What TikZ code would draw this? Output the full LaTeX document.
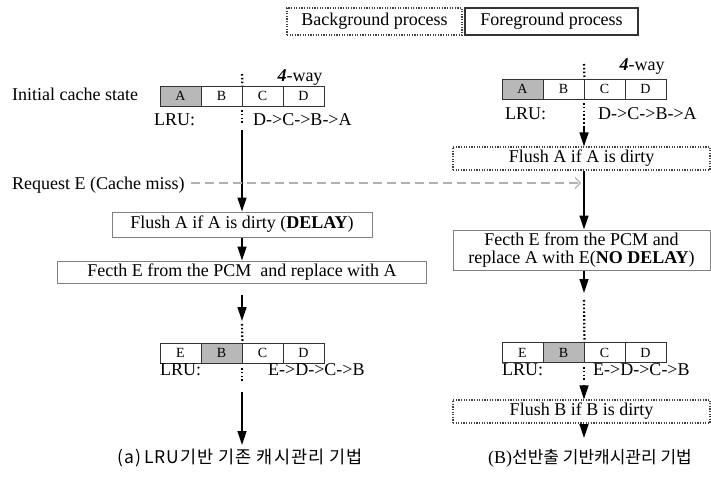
\documentclass[tikz,border=0pt]{standalone}
\usepackage{fontspec}
\setmainfont{Liberation Serif}
\newfontfamily\krfont{Noto Sans CJK KR}
\usetikzlibrary{arrows.meta}

\begin{document}
\begin{tikzpicture}[x=1pt,y=-1pt,
  lbl/.style={inner sep=0pt, font=\fontsize{18}{18}\selectfont},
  cell/.style={draw=black!80, line width=0.9pt, minimum width=41pt, minimum height=20pt, inner sep=0pt, font=\fontsize{14}{14}\selectfont},
  lrucell/.style={cell, fill=black!28},
  fgbox/.style={draw=black!50, line width=1pt, inner sep=0pt, font=\fontsize{18}{18}\selectfont, align=center},
  bgbox/.style={draw=black!75, line width=1.1pt, dash pattern=on 1.2pt off 1.4pt, inner sep=0pt, font=\fontsize{18}{18}\selectfont, align=center},
  flow/.style={draw=black, line width=1.3pt, -{Triangle[length=14pt,width=9pt]}},
  dotmark/.style={draw=black, line width=2.2pt, dash pattern=on 1.6pt off 2.2pt},
  reqline/.style={draw=black!30, line width=1.2pt, dash pattern=on 9pt off 5pt, -{Straight Barb[length=5pt,width=11pt]}},
  caption/.style={inner sep=0pt, font=\krfont\fontsize{17}{17}\selectfont},
]
\useasboundingbox (0,0) rectangle (711,476);

% legend
\node[bgbox, minimum width=175pt, minimum height=27pt] (bg) at (374.5,21.5) {Background process};
\node[fgbox, draw=black!80, line width=1.3pt, minimum width=173pt, minimum height=27pt] (fg) at (551.5,21.5) {Foreground process};

% ---------- left: plain LRU ----------
\node[lbl, anchor=base west] (init) at (12,101) {Initial cache state};
\node[lrucell] (la1) at (180.5,96) {A};
\node[cell] (la2) at (221.5,96) {B};
\node[cell] (la3) at (262.5,96) {C};
\node[cell] (la4) at (303.5,96) {D};
\node[lbl, anchor=base] (lway) at (300,82) {\textbf{\textit{4}}-way};
\node[lbl, anchor=base west] (llru) at (154,125) {LRU:};
\node[lbl, anchor=base west] (lord) at (253,125) {D->C->B->A};
\coordinate (lt1) at (242,74);
\draw[dotmark] (lt1) -- (la2.north east);
\coordinate (lb1) at (242,110);
\coordinate (lb2) at (242,125);
\draw[dotmark] (lb1) -- (lb2);

\node[fgbox, minimum width=260pt, minimum height=25pt] (lflush) at (242,224.5) {Flush A if A is dirty (\textbf{DELAY})};
\node[fgbox, minimum width=369pt, minimum height=22pt] (lfetch) at (242,272) {Fecth E from the PCM\ \ and replace with A};
\coordinate (ls) at (242,130);
\draw[flow] (ls) -- (lflush);
\draw[flow] (lflush) -- (lfetch);
\coordinate (lf1) at (242,295);
\coordinate (lf2) at (242,321);
\draw[flow] (lf1) -- (lf2);

\node[cell] (le1) at (180.5,353) {E};
\node[lrucell] (le2) at (221.5,353) {B};
\node[cell] (le3) at (262.5,353) {C};
\node[cell] (le4) at (303.5,353) {D};
\coordinate (lf3) at (242,324);
\draw[dotmark] (lf3) -- (le2.north east);
\node[lbl, anchor=base west] (llru2) at (160,375) {LRU:};
\node[lbl, anchor=base west] (lord2) at (268,375) {E->D->C->B};
\coordinate (lg1) at (242,368);
\coordinate (lg2) at (242,381);
\draw[dotmark] (lg1) -- (lg2);
\coordinate (lh1) at (242,392);
\coordinate (lh2) at (242,445);
\draw[flow] (lh1) -- (lh2);
\node[caption, anchor=base, font=\krfont\fontsize{17.5}{17.5}\selectfont\addfontfeature{LetterSpace=6}] (lcap) at (240,463) {(a)\,LRU기반 기존 캐시관리 기법};

% ---------- right: early eviction ----------
\coordinate (rc) at (584,0);
\node[lrucell] (ra1) at (522.5,89) {A};
\node[cell] (ra2) at (563.5,89) {B};
\node[cell] (ra3) at (604.5,89) {C};
\node[cell] (ra4) at (645.5,89) {D};
\node[lbl, anchor=base] (rway) at (642,71) {\textbf{\textit{4}}-way};
\node[lbl, anchor=base west] (rlru) at (505,119) {LRU:};
\node[lbl, anchor=base west] (rord) at (598,119) {D->C->B->A};
\coordinate (rt1) at (584,64);
\draw[dotmark] (rt1) -- (ra2.north east);
\coordinate (rb1) at (584,103);
\coordinate (rb2) at (584,126);
\draw[dotmark] (rb1) -- (rb2);

\node[bgbox, minimum width=257pt, minimum height=23pt] (rfa) at (581.5,158.5) {Flush A if A is dirty};
\node[fgbox, minimum width=257pt, minimum height=40pt, font=\fontsize{18}{18.5}\selectfont] (rfetch) at (581.5,250) {Fecth E from the PCM and\\replace A with E(\textbf{NO DELAY})};
\coordinate (rs) at (584,127);
\draw[flow] (rs) -- (rfa.north -| rc);
\draw[flow] (rfa.south -| rc) -- (rfetch.north -| rc);
\coordinate (rf2) at (584,293);
\draw[flow] (rfetch.south -| rc) -- (rf2);

\node[cell] (re1) at (522.5,352.5) {E};
\node[lrucell] (re2) at (563.5,352.5) {B};
\node[cell] (re3) at (604.5,352.5) {C};
\node[cell] (re4) at (645.5,352.5) {D};
\coordinate (rf3) at (584,300);
\draw[dotmark] (rf3) -- (re2.north east);
\node[lbl, anchor=base west] (rlru2) at (502,375) {LRU:};
\node[lbl, anchor=base west] (rord2) at (593,375) {E->D->C->B};
\coordinate (rg1) at (584,367);
\coordinate (rg2) at (584,382);
\draw[dotmark] (rg1) -- (rg2);

\node[bgbox, minimum width=257pt, minimum height=23pt] (rfb) at (581.5,411.5) {Flush B if B is dirty};
\coordinate (rh1) at (584,385);
\draw[flow] (rh1) -- (rfb.north -| rc);
\coordinate (rh2) at (584,438);
\draw[flow] (rfb.south -| rc) -- (rh2);
\node[caption, anchor=base] (rcap) at (590,463) {{\rmfamily\fontsize{18}{18}\selectfont (B)}선반출 기반캐시관리 기법};

% cache miss request
\node[lbl, anchor=base west] (req) at (12,189) {Request E (Cache miss)};
\coordinate (reqstart) at (191,183);
\coordinate (reqend) at (581,183);
\draw[reqline] (reqstart) -- (reqend);
\end{tikzpicture}
\end{document}
